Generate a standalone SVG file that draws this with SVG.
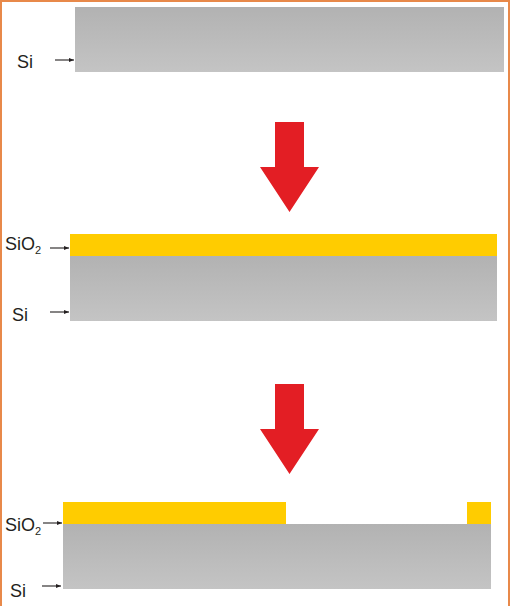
<svg xmlns="http://www.w3.org/2000/svg" width="510" height="606" viewBox="0 0 510 606">
<style>
.lbl{font-family:"Liberation Sans",Arial,sans-serif;font-size:18px;fill:#231f20}
.sub{font-size:11px}
.si{fill:url(#gray)}
.ox{fill:#ffcc00}
.pt{stroke:#231f20;stroke-width:1.1;fill:none}
.red{fill:#e31e24}
</style>
<defs>
<linearGradient id="gray" x1="0" y1="0" x2="0" y2="1">
<stop offset="0" stop-color="#b2b2b2"/>
<stop offset="1" stop-color="#c4c4c4"/>
</linearGradient>
<marker id="ah" markerWidth="5" markerHeight="4" refX="5" refY="2" orient="auto" markerUnits="userSpaceOnUse">
<path d="M0,0 L5,2 L0,4 Z" fill="#231f20"/>
</marker>
</defs>
<rect x="0" y="0" width="510" height="606" fill="#ffffff"/>
<path d="M1,606 V1 H509 V606" fill="none" stroke="#e8894a" stroke-width="2"/>

<g id="step1">
<rect class="si" x="75" y="7" width="429" height="65"/>
<text class="lbl" x="17" y="68">Si</text>
</g>

<g id="arrow1">
<path class="red" d="M275,122 H304 V167 H319 L289.5,212 L260,167 H275 Z"/>
</g>

<g id="step2">
<rect class="si" x="70" y="256" width="427" height="65"/>
<rect class="ox" x="70" y="234" width="427" height="22"/>
<text class="lbl" x="5" y="250">SiO<tspan class="sub" dy="4">2</tspan></text>
<text class="lbl" x="12" y="321">Si</text>
</g>

<g id="arrow2">
<path class="red" d="M275,384 H304 V429 H319 L289.5,474 L260,429 H275 Z"/>
</g>

<g id="step3">
<rect class="si" x="63" y="524" width="428" height="65"/>
<rect class="ox" x="63" y="502" width="223" height="22"/>
<rect class="ox" x="467" y="502" width="24" height="22"/>
<text class="lbl" x="5" y="531">SiO<tspan class="sub" dy="4">2</tspan></text>
<text class="lbl" x="10" y="597">Si</text>
</g>

<g id="connectors">
<line class="pt" x1="55" y1="60" x2="74" y2="60" marker-end="url(#ah)"/>
<line class="pt" x1="50" y1="248" x2="69" y2="248" marker-end="url(#ah)"/>
<line class="pt" x1="50" y1="312" x2="69" y2="312" marker-end="url(#ah)"/>
<line class="pt" x1="43" y1="523" x2="62" y2="523" marker-end="url(#ah)"/>
<line class="pt" x1="42" y1="586" x2="61" y2="586" marker-end="url(#ah)"/>
</g>
</svg>
